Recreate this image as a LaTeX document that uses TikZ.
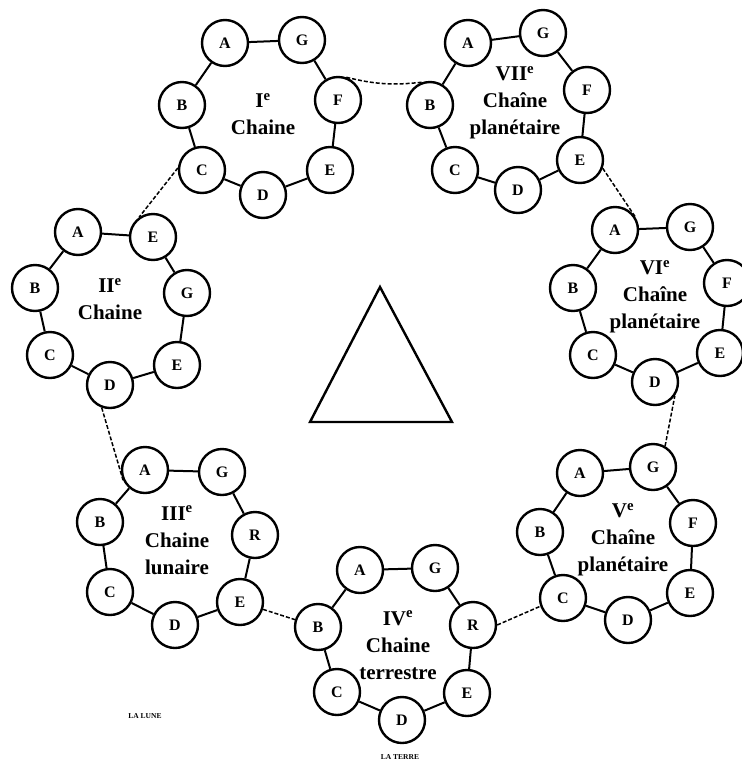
\documentclass[tikz,border=0pt]{standalone}
\usepackage{fontspec}
\setmainfont{Liberation Serif}
\begin{document}
\begin{tikzpicture}[x=1pt,y=-1pt,
  ball/.style={circle,draw,line width=2.4pt,minimum size=46pt,inner sep=0pt,
    font=\bfseries\fontsize{16}{16}\selectfont},
  link/.style={line width=2pt},
  hop/.style={line width=1.5pt,dash pattern=on 4pt off 2pt},
  lbl/.style={align=center,inner sep=0pt,font=\bfseries\fontsize{21}{27}\selectfont},
  tag/.style={inner sep=0pt,font=\bfseries\fontsize{7.5}{7.5}\selectfont}]
\useasboundingbox (0,0) rectangle (742,764);

% Chain I
\node[ball] (I-A) at (225,43) {A};
\node[ball] (I-G) at (302,40) {G};
\node[ball] (I-F) at (338,100) {F};
\node[ball] (I-E) at (330,170) {E};
\node[ball] (I-D) at (263,195) {D};
\node[ball] (I-C) at (202,170) {C};
\node[ball] (I-B) at (182,105) {B};
\node[lbl] (I-L) at (263,114) {I\textsuperscript{e}\\Chaine};
\draw[link] (I-A)--(I-G)--(I-F)--(I-E)--(I-D)--(I-C)--(I-B)--(I-A);

% Chain VII
\node[ball] (VII-A) at (468,43) {A};
\node[ball] (VII-G) at (543,33) {G};
\node[ball] (VII-F) at (587,90) {F};
\node[ball] (VII-E) at (580,160) {E};
\node[ball] (VII-D) at (518,190) {D};
\node[ball] (VII-C) at (455,170) {C};
\node[ball] (VII-B) at (430,105) {B};
\node[lbl] (VII-L) at (515,103) {VII\textsuperscript{e}\\Chaîne\\planétaire};
\draw[link] (VII-A)--(VII-G)--(VII-F)--(VII-E)--(VII-D)--(VII-C)--(VII-B)--(VII-A);

% Chain II
\node[ball] (II-A) at (78,232) {A};
\node[ball] (II-F) at (153,237) {E};
\node[ball] (II-G) at (187,293) {G};
\node[ball] (II-E) at (177,365) {E};
\node[ball] (II-D) at (110,385) {D};
\node[ball] (II-C) at (50,355) {C};
\node[ball] (II-B) at (35,288) {B};
\node[lbl] (II-L) at (110,299) {II\textsuperscript{e}\\Chaine};
\draw[link] (II-A)--(II-F)--(II-G)--(II-E)--(II-D)--(II-C)--(II-B)--(II-A);

% Chain VI
\node[ball] (VI-A) at (615,230) {A};
\node[ball] (VI-G) at (690,227) {G};
\node[ball] (VI-F) at (727,283) {F};
\node[ball] (VI-E) at (720,353) {E};
\node[ball] (VI-D) at (655,382) {D};
\node[ball] (VI-C) at (593,355) {C};
\node[ball] (VI-B) at (573,288) {B};
\node[lbl] (VI-L) at (655,297) {VI\textsuperscript{e}\\Chaîne\\planétaire};
\draw[link] (VI-A)--(VI-G)--(VI-F)--(VI-E)--(VI-D)--(VI-C)--(VI-B)--(VI-A);

% Chain III
\node[ball] (III-A) at (145,470) {A};
\node[ball] (III-G) at (222,472) {G};
\node[ball] (III-F) at (255,535) {R};
\node[ball] (III-E) at (240,602) {E};
\node[ball] (III-D) at (175,625) {D};
\node[ball] (III-C) at (110,592) {C};
\node[ball] (III-B) at (100,522) {B};
\node[lbl] (III-L) at (177,540) {III\textsuperscript{e}\\Chaine\\lunaire};
\draw[link] (III-A)--(III-G)--(III-F)--(III-E)--(III-D)--(III-C)--(III-B)--(III-A);
\node[tag] (lune) at (145,716) {LA LUNE};

% Chain IV
\node[ball] (IV-A) at (360,570) {A};
\node[ball] (IV-G) at (435,568) {G};
\node[ball] (IV-F) at (473,625) {R};
\node[ball] (IV-E) at (467,693) {E};
\node[ball] (IV-D) at (402,720) {D};
\node[ball] (IV-C) at (337,692) {C};
\node[ball] (IV-B) at (318,627) {B};
\node[lbl] (IV-L) at (398,645) {IV\textsuperscript{e}\\Chaine\\terrestre};
\draw[link] (IV-A)--(IV-G)--(IV-F)--(IV-E)--(IV-D)--(IV-C)--(IV-B)--(IV-A);
\node[tag] (terre) at (400,757) {LA TERRE};

% Chain V
\node[ball] (V-A) at (580,473) {A};
\node[ball] (V-G) at (653,467) {G};
\node[ball] (V-F) at (693,523) {F};
\node[ball] (V-E) at (690,593) {E};
\node[ball] (V-D) at (628,620) {D};
\node[ball] (V-C) at (563,598) {C};
\node[ball] (V-B) at (540,532) {B};
\node[lbl] (V-L) at (623,540) {V\textsuperscript{e}\\Chaîne\\planétaire};
\draw[link] (V-A)--(V-G)--(V-F)--(V-E)--(V-D)--(V-C)--(V-B)--(V-A);

% links between chains
\draw[hop] (I-F.70) to[bend right=10] (VII-B.110);
\draw[hop] (I-C.175) -- (II-F.125);
\draw[hop] (II-D.250) -- (III-A.205);
\draw[hop] (III-E) -- (IV-B);
\draw[hop] (IV-F.east) -- (V-C.200);
\draw[hop] (V-G.60) -- (VI-D.-35);
\draw[hop] (VII-E.-20) -- (VI-A.30);

% central triangle
\draw[line width=2.4pt,line join=miter] (380,287) -- (452,422) -- (310,422) -- cycle;
\end{tikzpicture}
\end{document}
